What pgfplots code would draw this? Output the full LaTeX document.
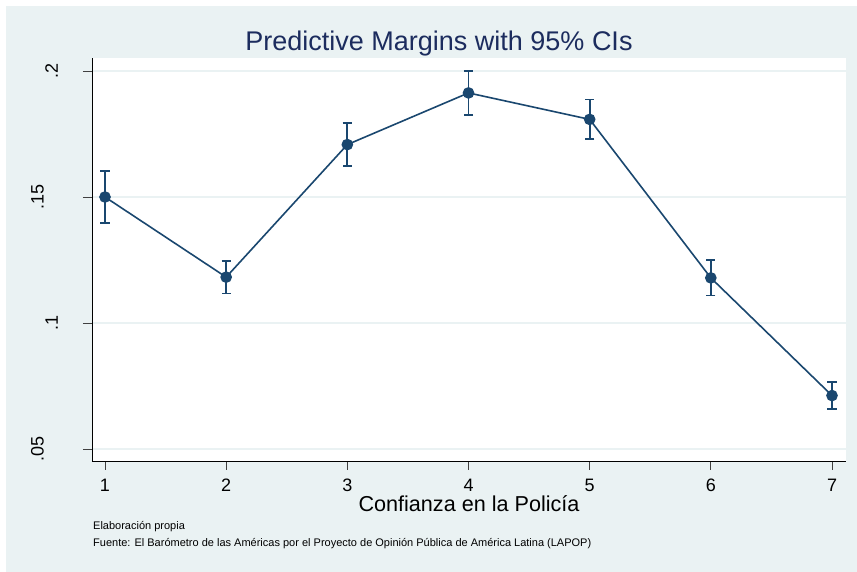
\documentclass[border=0pt]{standalone}
\usepackage{pgfplots}
\pgfplotsset{compat=1.18}
\usepackage{fontspec}
\setmainfont{Liberation Sans}
\definecolor{bgc}{RGB}{234,242,243}
\definecolor{navyc}{RGB}{26,71,111}
\definecolor{titlec}{RGB}{28,44,94}
\pgfplotstableread{
x y e
1 0.1500 0.0104
2 0.1182 0.0065
3 0.1708 0.0084
4 0.1913 0.0087
5 0.1808 0.0079
6 0.1179 0.0070
7 0.0712 0.0055
}\margins
\begin{document}
\begin{tikzpicture}[x=1pt,y=1pt]
\useasboundingbox (-92,-111) rectangle (765,461);
\fill[white] (-92,-111) rectangle (765,461);
\fill[bgc] (-86,-111) rectangle (765,455);
\begin{axis}[at={(0,0)}, anchor=south west, scale only axis, width=754pt, height=403pt,
 xmin=0.8927, xmax=7.1155, ymin=0.04524, ymax=0.20516,
 axis x line*=bottom, axis y line*=left,
 axis line style={black, line width=0.9pt},
 axis background/.style={fill=white},
 xtick={1,...,7}, ytick={0.05,0.1,0.15,0.2},
 xticklabels={}, yticklabels={},
 tick align=outside, major tick length=9pt,
 tick style={line width=0.9pt, color=black!75},
 ymajorgrids, grid style={line width=1.5pt, color=bgc},
 clip=false]
\addplot[navyc, line width=1.6pt, mark=*, mark size=5pt, mark options={solid, fill=navyc, draw=navyc},
 error bars/.cd, y dir=both, y explicit,
 error bar style={line width=1.9pt, navyc, solid},
 error mark options={line width=1.9pt, mark size=4.6pt, navyc, rotate=90}]
 table[x=x, y=y, y error=e] {\margins};
\end{axis}
% tick labels
\foreach \i in {1,...,7} {
  \node[anchor=base, inner sep=0pt, font=\fontsize{18}{18}\selectfont] at ({13+(\i-1)*121.17}, -30.5) {\i};
}
\node[rotate=90, anchor=south, inner sep=0pt, font=\fontsize{18}{18}\selectfont] at (-48, 12) {.05};
\node[rotate=90, anchor=south, inner sep=0pt, font=\fontsize{18}{18}\selectfont] at (-34, 138) {.1};
\node[rotate=90, anchor=south, inner sep=0pt, font=\fontsize{18}{18}\selectfont] at (-48, 264) {.15};
\node[rotate=90, anchor=south, inner sep=0pt, font=\fontsize{18}{18}\selectfont] at (-34, 390) {.2};
% title
\node[anchor=base, inner sep=0pt, text=titlec, font=\fontsize{27}{27}\selectfont] at (347, 410) {Predictive Margins with 95\% CIs};
% x label
\node[anchor=base, inner sep=0pt, font=\fontsize{21.6}{21.6}\selectfont] at (377, -51) {Confianza en la Policía};
% notes
\node[anchor=base west, inner sep=0pt, font=\fontsize{11}{11}\selectfont] at (1, -69) {Elaboración propia};
\node[anchor=base west, inner sep=0pt, font=\fontsize{11}{11}\selectfont] at (1, -86) {Fuente: El Barómetro de las Américas por el Proyecto de Opinión Pública de América Latina (LAPOP)};
\end{tikzpicture}
\end{document}
